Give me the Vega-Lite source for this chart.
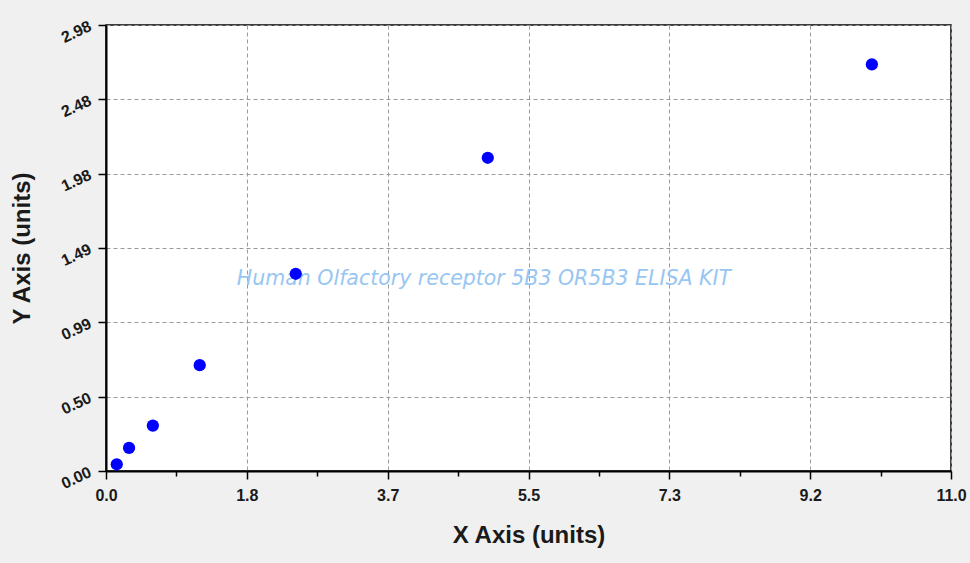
{
  "$schema": "https://vega.github.io/schema/vega-lite/v6.json",
  "description": "Standard curve scatter for an ELISA kit.",
  "width": 845,
  "height": 446,
  "autosize": {"type": "none"},
  "padding": {"left": 106, "top": 25, "right": 19, "bottom": 92},
  "background": "#f0f0f0",
  "datasets": {
    "points": [
      {"conc": 0.14, "od": 0.045},
      {"conc": 0.3, "od": 0.154},
      {"conc": 0.61, "od": 0.303},
      {"conc": 1.22, "od": 0.706},
      {"conc": 2.47, "od": 1.316},
      {"conc": 4.97, "od": 2.09},
      {"conc": 9.97, "od": 2.713}
    ],
    "mark_text": [
      {"conc": 4.92, "od": 1.28, "label": "Human Olfactory receptor 5B3 OR5B3 ELISA KIT"}
    ]
  },
  "layer": [
    {
      "data": {"name": "mark_text"},
      "mark": {
        "type": "text",
        "font": "DejaVu Sans",
        "fontStyle": "italic",
        "fontSize": 20.5,
        "color": "#98c6f2"
      },
      "encoding": {
        "x": {"field": "conc", "type": "quantitative"},
        "y": {"field": "od", "type": "quantitative"},
        "text": {"field": "label"}
      }
    },
    {
      "data": {"name": "points"},
      "mark": {"type": "circle", "size": 150, "color": "#0000ff", "opacity": 1},
      "encoding": {
        "x": {
          "field": "conc",
          "type": "quantitative",
          "title": "X Axis (units)",
          "scale": {"domain": [0, 11], "nice": false, "zero": false},
          "axis": {
            "values": [0, 0.458333, 0.916667, 1.375, 1.833333, 2.291667, 2.75, 3.208333, 3.666667, 4.125, 4.583333, 5.041667, 5.5, 5.958333, 6.416667, 6.875, 7.333333, 7.791667, 8.25, 8.708333, 9.166667, 9.625, 10.083333, 10.541667, 11],
            "format": ".1f",
            "labelExpr": "abs(datum.value*6/11 - round(datum.value*6/11)) < 0.01 ? datum.label : ''",
            "tickSize": {"condition": {"test": "abs(datum.value*6/11 - round(datum.value*6/11)) < 0.01", "value": 8}, "value": 5},
            "gridOpacity": {"condition": {"test": "abs(datum.value*6/11 - round(datum.value*6/11)) < 0.01", "value": 1}, "value": 0},
            "labelPadding": 8,
            "titlePadding": 20
          }
        },
        "y": {
          "field": "od",
          "type": "quantitative",
          "title": "Y Axis (units)",
          "scale": {"domain": [0, 2.976], "nice": false, "zero": false},
          "axis": {
            "values": [0, 0.124, 0.248, 0.372, 0.496, 0.62, 0.744, 0.868, 0.992, 1.116, 1.24, 1.364, 1.488, 1.612, 1.736, 1.86, 1.984, 2.108, 2.232, 2.356, 2.48, 2.604, 2.728, 2.852, 2.976],
            "format": ".2f",
            "labelExpr": "abs(datum.value/0.496 - round(datum.value/0.496)) < 0.01 ? datum.label : ''",
            "tickSize": {"condition": {"test": "abs(datum.value/0.496 - round(datum.value/0.496)) < 0.01", "value": 8}, "value": 5},
            "gridOpacity": {"condition": {"test": "abs(datum.value/0.496 - round(datum.value/0.496)) < 0.01", "value": 1}, "value": 0},
            "labelAngle": -25,
            "labelAlign": "right",
            "labelBaseline": "middle",
            "labelPadding": 8,
            "titlePadding": 24
          }
        }
      }
    }
  ],
  "config": {
    "font": "Liberation Sans",
    "view": {"fill": "#ffffff", "stroke": "#000000", "strokeWidth": 1.5},
    "axis": {
      "domainColor": "#000000",
      "domainWidth": 2,
      "tickColor": "#000000",
      "tickWidth": 1.5,
      "grid": true,
      "gridColor": "#9a9a9a",
      "gridDash": [4, 3],
      "gridWidth": 1,
      "labelFont": "Liberation Sans",
      "labelFontWeight": "bold",
      "labelFontSize": 16,
      "labelColor": "#1a1a1a",
      "labelOverlap": false,
      "labelBound": false,
      "labelFlush": false,
      "titleFont": "Liberation Sans",
      "titleFontWeight": "bold",
      "titleFontSize": 24,
      "titleColor": "#1a1a1a"
    }
  }
}
